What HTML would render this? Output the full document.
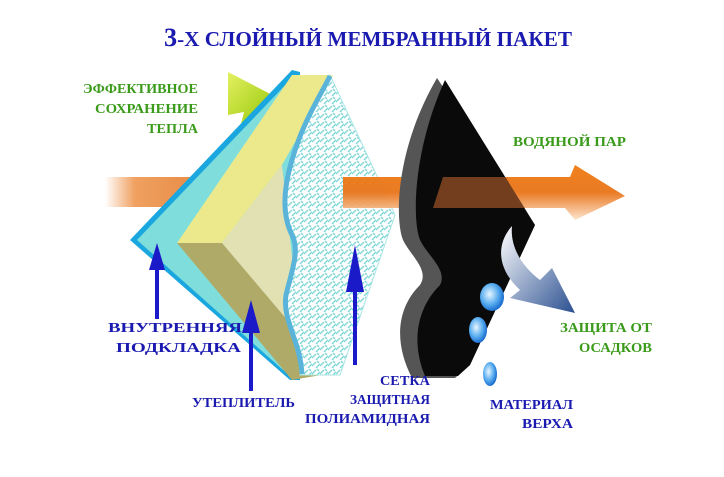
<!DOCTYPE html>
<html><head><meta charset="utf-8"><style>
html,body{margin:0;padding:0;background:#fff;}
svg{display:block;}
text{font-family:"Liberation Serif","DejaVu Serif",serif;font-weight:bold;}
</style></head><body>
<svg width="724" height="477" viewBox="0 0 724 477" xmlns="http://www.w3.org/2000/svg">
<defs>
<linearGradient id="org" x1="0" y1="0" x2="0" y2="1">
<stop offset="0" stop-color="#f07a10"/><stop offset="0.5" stop-color="#e8741a"/><stop offset="1" stop-color="#fde4cc"/>
</linearGradient>
<linearGradient id="orgL" x1="0" y1="0" x2="1" y2="0">
<stop offset="0" stop-color="#fff"/><stop offset="0.15" stop-color="#f0a060"/><stop offset="1" stop-color="#d96a1a"/>
</linearGradient>
<linearGradient id="grn" x1="0" y1="0" x2="1" y2="1">
<stop offset="0" stop-color="#e4f060"/><stop offset="1" stop-color="#8ec400"/>
</linearGradient>
<linearGradient id="wb" x1="0" y1="0" x2="1" y2="1">
<stop offset="0" stop-color="#ffffff"/><stop offset="1" stop-color="#2a4f90"/>
</linearGradient>
<pattern id="mesh" width="8" height="8" patternUnits="userSpaceOnUse">
<rect width="8" height="8" fill="#fff"/>
<path d="M0 6 L4 2 M4 8 L8 4 M5 1 L7 3" stroke="#7fd6d8" stroke-width="1.4"/>
</pattern>
<radialGradient id="drop" cx="0.4" cy="0.4" r="0.6">
<stop offset="0" stop-color="#e8f6ff"/><stop offset="0.6" stop-color="#5aaef0"/><stop offset="1" stop-color="#1d6fd0"/>
</radialGradient>
</defs>

<text x="164" y="46" font-size="21" fill="#1a1ab0" textLength="408" lengthAdjust="spacingAndGlyphs"><tspan font-size="26">3</tspan>-Х СЛОЙНЫЙ МЕМБРАННЫЙ ПАКЕТ</text>

<rect x="105" y="177" width="200" height="30" fill="url(#orgL)"/>

<polygon points="228,72 278,98 262,105 250,128 240,128 244,112 228,115" fill="url(#grn)"/>

<polygon points="130,240 292,70 300,72 300,380 290,380" fill="#1aa6de"/>
<polygon points="137,240 292,78 300,80 300,378 292,378" fill="#7fdedc"/>
<polygon points="177,243 292,75 333,75 282,165 222,243" fill="#ece98c"/>
<polygon points="222,243 282,165 300,330 285,335" fill="#e2e1b4"/>
<polygon points="177,243 222,243 300,335 333,373 292,380" fill="#b0aa68"/>

<path d="M330,75 L395,215 L340,375 L300,375 C300,340 282,320 286,295 C292,270 300,250 292,235 C282,215 283,190 292,160 C305,120 320,95 330,75 Z" fill="url(#mesh)" stroke="#a9e6e2" stroke-width="1"/>
<path d="M330,76 C318,100 303,122 292,160 C283,190 282,215 292,235 C300,250 292,270 286,295 C282,320 300,340 302,374" fill="none" stroke="#5ab4da" stroke-width="5"/>

<polygon points="343,177 570,177 575,165 625,196 575,220 565,208 443,208 343,208" fill="url(#org)" opacity="0.95"/>

<path d="M437,78 L535,225 L470,365 L455,378 L412,378 C395,345 395,310 420,285 C430,270 410,255 403,240 C395,220 395,150 437,78 Z" fill="#555"/>
<path d="M445,80 L535,225 L470,365 L458,376 L425,376 C412,345 415,310 440,285 C448,270 427,255 420,240 C412,220 413,150 445,80 Z" fill="#0a0a0a"/>
<polygon points="443,177 505,177 525,208 443,208 433,208" fill="#c86a30" opacity="0.55"/>

<path d="M512,226 C495,245 498,270 520,290 L510,298 L575,313 L552,268 L540,280 C520,265 510,245 512,226 Z" fill="url(#wb)"/>

<ellipse cx="492" cy="297" rx="12" ry="14" fill="url(#drop)"/>
<ellipse cx="478" cy="330" rx="9" ry="13" fill="url(#drop)"/>
<ellipse cx="490" cy="374" rx="7" ry="12" fill="url(#drop)"/>

<g fill="#1a1ac8">
<rect x="155" y="262" width="4" height="57"/><polygon points="157,243 149,270 165,270"/>
<rect x="249" y="325" width="4" height="66"/><polygon points="251,300 242,333 260,333"/>
<rect x="353" y="270" width="4" height="95"/><polygon points="355,245 346,292 364,292"/>
</g>

<g fill="#3a9a1a" font-size="14">
<text x="83" y="93" textLength="115" lengthAdjust="spacingAndGlyphs">ЭФФЕКТИВНОЕ</text>
<text x="95" y="113" textLength="103" lengthAdjust="spacingAndGlyphs">СОХРАНЕНИЕ</text>
<text x="147" y="133" textLength="51" lengthAdjust="spacingAndGlyphs">ТЕПЛА</text>
<text x="513" y="146" textLength="113" lengthAdjust="spacingAndGlyphs">ВОДЯНОЙ ПАР</text>
<text x="560" y="332" textLength="92" lengthAdjust="spacingAndGlyphs">ЗАЩИТА ОТ</text>
<text x="579" y="352" textLength="73" lengthAdjust="spacingAndGlyphs">ОСАДКОВ</text>
</g>
<g fill="#1a1ab0" font-size="14">
<text x="108" y="332" textLength="134" lengthAdjust="spacingAndGlyphs">ВНУТРЕННЯЯ</text>
<text x="116" y="352" textLength="125" lengthAdjust="spacingAndGlyphs">ПОДКЛАДКА</text>
<text x="192" y="407" textLength="103" lengthAdjust="spacingAndGlyphs">УТЕПЛИТЕЛЬ</text>
<text x="380" y="385" textLength="50" lengthAdjust="spacingAndGlyphs">СЕТКА</text>
<text x="350" y="404" textLength="80" lengthAdjust="spacingAndGlyphs">ЗАЩИТНАЯ</text>
<text x="305" y="423" textLength="125" lengthAdjust="spacingAndGlyphs">ПОЛИАМИДНАЯ</text>
<text x="490" y="409" textLength="83" lengthAdjust="spacingAndGlyphs">МАТЕРИАЛ</text>
<text x="522" y="428" textLength="51" lengthAdjust="spacingAndGlyphs">ВЕРХА</text>
</g>
</svg>
</body></html>
